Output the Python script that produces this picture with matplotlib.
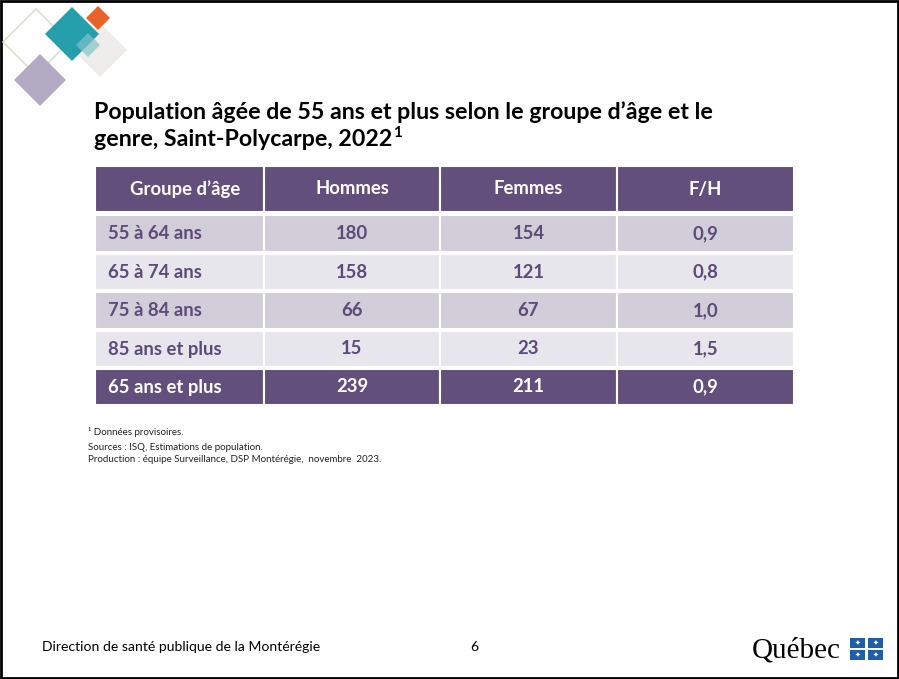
import matplotlib.pyplot as plt
from matplotlib.patches import Rectangle, Polygon

# data
groupes = ['55 à 64 ans', '65 à 74 ans', '75 à 84 ans', '85 ans et plus', '65 ans et plus']
hommes = [180, 158, 66, 15, 239]
femmes = [154, 121, 67, 23, 211]
ratio_fh = [0.9, 0.8, 1.0, 1.5, 0.9]
entetes = ['Groupe d\u2019âge', 'Hommes', 'Femmes', 'F/H']

purple = '#624f7c'
txt_purple = '#5d4a78'
row_dark = '#d2ced9'
row_light = '#e8e6ed'

plt.rcParams['font.family'] = ['Lato', 'DejaVu Sans']

fig = plt.figure(figsize=(8.99, 6.79), dpi=100)
ax = fig.add_axes([0, 0, 1, 1])
ax.set_xlim(0, 899)
ax.set_ylim(679, 0)
ax.axis('off')

# slide border
ax.add_patch(Rectangle((1, 1), 897, 677, fill=False, edgecolor='black', lw=2))

# decorative diamonds top-left
def diamond(cx, cy, r, **kw):
    ax.add_patch(Polygon([(cx, cy - r), (cx + r, cy), (cx, cy + r), (cx - r, cy)], closed=True, **kw))

diamond(36, 42, 33, fill=False, edgecolor='#d8e0d0', lw=1.2)
diamond(100, 50, 27, facecolor='#efedec', edgecolor='none')
diamond(40, 80, 26, facecolor='#b3aac4', edgecolor='none')
diamond(98, 18, 12, facecolor='#e8622a', edgecolor='none')
diamond(72, 34, 27, facecolor='#1a9aa8', edgecolor='none', alpha=0.95)
diamond(88, 45, 12, facecolor='#7fc3cb', edgecolor='none', alpha=0.7)

# title
ax.text(94, 112, 'Population âgée de 55 ans et plus selon le groupe d\u2019âge et le',
        fontsize=16.7, fontweight='bold', color='black', va='center', ha='left')
t2 = ax.text(94, 140, 'genre, Saint-Polycarpe, 2022',
             fontsize=16.7, fontweight='bold', color='black', va='center', ha='left')
ax.text(393, 133, '1', fontsize=11, fontweight='bold', color='black', va='center', ha='left')

# table
col_x = [95, 264, 440, 617, 794]
header_y = (166, 212)
row_y = [(215, 252), (254, 290), (292, 329), (331, 367), (369, 405)]

for j in range(4):
    x0, x1 = col_x[j], col_x[j + 1]
    ax.add_patch(Rectangle((x0, header_y[0]), x1 - x0, header_y[1] - header_y[0],
                           facecolor=purple, edgecolor='white', lw=1.5))
    cx = (x0 + x1) / 2 + (6 if j == 0 else 0)
    ax.text(cx, sum(header_y) / 2, entetes[j], color='white', fontsize=13.3,
            fontweight='bold', ha='center', va='center')

for i, g in enumerate(groupes):
    last = i == len(groupes) - 1
    fc = purple if last else (row_dark if i % 2 == 0 else row_light)
    tc = 'white' if last else txt_purple
    y0, y1 = row_y[i]
    for j in range(4):
        x0, x1 = col_x[j], col_x[j + 1]
        ax.add_patch(Rectangle((x0, y0), x1 - x0, y1 - y0, facecolor=fc,
                               edgecolor='white', lw=1.5))
    yc = (y0 + y1) / 2
    vals = [str(hommes[i]), str(femmes[i]), f'{ratio_fh[i]:.1f}'.replace('.', ',')]
    ax.text(108, yc, g, color=tc, fontsize=13.3, fontweight='bold', ha='left', va='center')
    for j, v in enumerate(vals, start=1):
        ax.text((col_x[j] + col_x[j + 1]) / 2, yc, v, color=tc, fontsize=13.3,
                fontweight='bold', ha='center', va='center')

# notes
ax.text(88, 432, '\u00b9 Données provisoires.', fontsize=7, color='#222222', va='center')
ax.text(88, 448, 'Sources : ISQ, Estimations de population.', fontsize=7, color='#222222', va='center')
ax.text(88, 459, 'Production : équipe Surveillance, DSP Montérégie,  novembre  2023.',
        fontsize=7, color='#222222', va='center')

# footer
ax.text(42, 647, 'Direction de santé publique de la Montérégie', fontsize=10.1,
        color='black', va='center')
ax.text(474, 647, '6', fontsize=10.1, color='black', va='center', ha='center')
ax.text(752, 650, 'Québec', fontsize=21, color='black', va='center', ha='left',
        family=['Liberation Serif'])
for (qx, qy) in [(850, 638), (868, 638), (850, 650), (868, 650)]:
    ax.add_patch(Rectangle((qx, qy), 15, 10, facecolor='#1f5fa8', edgecolor='none'))
    ax.text(qx + 7.5, qy + 5, '\u2726', color='white', fontsize=5, ha='center', va='center',
            family=['DejaVu Sans'])

fig.savefig('out.png', dpi=100)
